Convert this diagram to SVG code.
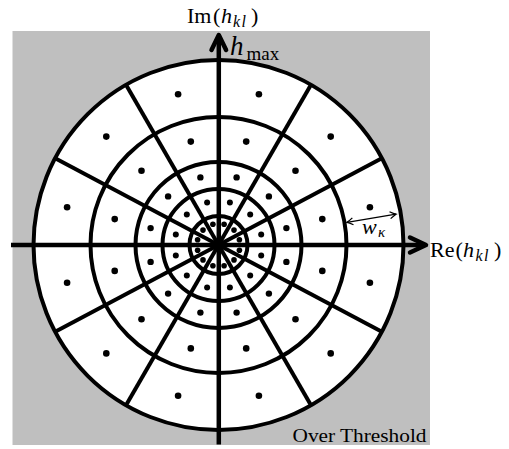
<svg xmlns="http://www.w3.org/2000/svg" width="509" height="449" viewBox="0 0 509 449">
<style>
.ring{fill:none;stroke:#000;stroke-width:4}
.spoke{stroke:#000;stroke-width:4}
.axis{stroke:#000;stroke-width:4.5;fill:none}
.head{stroke:#000;stroke-width:4.5;fill:none;stroke-linejoin:round;stroke-linecap:round}
.dot{fill:#000}
.lbl{font-family:"Liberation Serif","DejaVu Serif",serif;fill:#000}
.it{font-style:italic}
.sub{font-style:italic;font-size:16px;letter-spacing:1.5px}
</style>
<defs>
<marker id="ah" markerUnits="userSpaceOnUse" markerWidth="12" markerHeight="12" refX="0" refY="0" viewBox="-8 -6 10 12" orient="auto-start-reverse" overflow="visible">
<path d="M-6,-3.5 Q-2,-0.8 0,0 Q-2,0.8 -6,3.5" fill="none" stroke="#000" stroke-width="1.3"/>
</marker>
</defs>
<rect id="background" x="12.5" y="31" width="417.5" height="414" fill="#bfbfbf"/>
<g id="disk">
<circle cx="218.5" cy="245" r="185" fill="#fff"/>
</g>
<g id="connectors">
<line class="spoke" x1="381.85" y1="158.15" x2="55.15" y2="331.85"/>
<line class="spoke" x1="55.15" y1="158.15" x2="381.85" y2="331.85"/>
<line class="spoke" x1="311" y1="84.78" x2="126" y2="405.22"/>
<line class="spoke" x1="126" y1="84.78" x2="311" y2="405.22"/>
<circle class="ring" cx="218.5" cy="245" r="29"/>
<circle class="ring" cx="218.5" cy="245" r="56"/>
<circle class="ring" cx="218.5" cy="245" r="83"/>
<circle class="ring" cx="218.5" cy="245" r="128"/>
<circle class="ring" cx="218.5" cy="245" r="185"/>
<line x1="203" y1="60.5" x2="232" y2="60.5" stroke="#000" stroke-width="3"/>
<line class="axis" x1="11" y1="245" x2="424" y2="245"/>
<path class="head" d="M410,237.5 L426,245 L410,252.5"/>
<line class="axis" x1="218.8" y1="444.5" x2="218.8" y2="38"/>
<path class="head" d="M211.5,50 L218.8,35 L226.1,50"/>
<line x1="347" y1="222.3" x2="396" y2="214.2" stroke="#000" stroke-width="1.3" marker-start="url(#ah)" marker-end="url(#ah)"/>
</g>
<g id="dots" transform="translate(218.5,245)">
<circle class="dot" r="3.3" cx="151.4" cy="-37.7"/><circle class="dot" r="3.3" cx="-151.4" cy="-37.7"/><circle class="dot" r="3.3" cx="151.4" cy="37.7"/><circle class="dot" r="3.3" cx="-151.4" cy="37.7"/>
<circle class="dot" r="3.3" cx="112.2" cy="-108.4"/><circle class="dot" r="3.3" cx="-112.2" cy="-108.4"/><circle class="dot" r="3.3" cx="112.2" cy="108.4"/><circle class="dot" r="3.3" cx="-112.2" cy="108.4"/>
<circle class="dot" r="3.3" cx="40.4" cy="-150.7"/><circle class="dot" r="3.3" cx="-40.4" cy="-150.7"/><circle class="dot" r="3.3" cx="40.4" cy="150.7"/><circle class="dot" r="3.3" cx="-40.4" cy="150.7"/>
<circle class="dot" r="3.3" cx="103.8" cy="-25.9"/><circle class="dot" r="3.3" cx="-103.8" cy="-25.9"/><circle class="dot" r="3.3" cx="103.8" cy="25.9"/><circle class="dot" r="3.3" cx="-103.8" cy="25.9"/>
<circle class="dot" r="3.3" cx="77" cy="-74.3"/><circle class="dot" r="3.3" cx="-77" cy="-74.3"/><circle class="dot" r="3.3" cx="77" cy="74.3"/><circle class="dot" r="3.3" cx="-77" cy="74.3"/>
<circle class="dot" r="3.3" cx="27.7" cy="-103.4"/><circle class="dot" r="3.3" cx="-27.7" cy="-103.4"/><circle class="dot" r="3.3" cx="27.7" cy="103.4"/><circle class="dot" r="3.3" cx="-27.7" cy="103.4"/>
<circle class="dot" r="3.2" cx="67.9" cy="-16.9"/><circle class="dot" r="3.2" cx="-67.9" cy="-16.9"/><circle class="dot" r="3.2" cx="67.9" cy="16.9"/><circle class="dot" r="3.2" cx="-67.9" cy="16.9"/>
<circle class="dot" r="3.2" cx="50.4" cy="-48.6"/><circle class="dot" r="3.2" cx="-50.4" cy="-48.6"/><circle class="dot" r="3.2" cx="50.4" cy="48.6"/><circle class="dot" r="3.2" cx="-50.4" cy="48.6"/>
<circle class="dot" r="3.2" cx="18.1" cy="-67.6"/><circle class="dot" r="3.2" cx="-18.1" cy="-67.6"/><circle class="dot" r="3.2" cx="18.1" cy="67.6"/><circle class="dot" r="3.2" cx="-18.1" cy="67.6"/>
<circle class="dot" r="3" cx="42.7" cy="-10.6"/><circle class="dot" r="3" cx="-42.7" cy="-10.6"/><circle class="dot" r="3" cx="42.7" cy="10.6"/><circle class="dot" r="3" cx="-42.7" cy="10.6"/>
<circle class="dot" r="3" cx="31.7" cy="-30.6"/><circle class="dot" r="3" cx="-31.7" cy="-30.6"/><circle class="dot" r="3" cx="31.7" cy="30.6"/><circle class="dot" r="3" cx="-31.7" cy="30.6"/>
<circle class="dot" r="3" cx="11.4" cy="-42.5"/><circle class="dot" r="3" cx="-11.4" cy="-42.5"/><circle class="dot" r="3" cx="11.4" cy="42.5"/><circle class="dot" r="3" cx="-11.4" cy="42.5"/>
<circle class="dot" r="2.8" cx="20.9" cy="-5.2"/><circle class="dot" r="2.8" cx="-20.9" cy="-5.2"/><circle class="dot" r="2.8" cx="20.9" cy="5.2"/><circle class="dot" r="2.8" cx="-20.9" cy="5.2"/>
<circle class="dot" r="2.8" cx="15.5" cy="-14.9"/><circle class="dot" r="2.8" cx="-15.5" cy="-14.9"/><circle class="dot" r="2.8" cx="15.5" cy="14.9"/><circle class="dot" r="2.8" cx="-15.5" cy="14.9"/>
<circle class="dot" r="2.8" cx="5.6" cy="-20.8"/><circle class="dot" r="2.8" cx="-5.6" cy="-20.8"/><circle class="dot" r="2.8" cx="5.6" cy="20.8"/><circle class="dot" r="2.8" cx="-5.6" cy="20.8"/>
</g>
<g id="label-im">
<text class="lbl" x="187" y="23" font-size="22">Im<tspan x="213">(</tspan><tspan x="221" class="it">h</tspan><tspan x="233" class="sub" dy="4">kl</tspan><tspan x="251" dy="-4">)</tspan></text>
</g>
<g id="label-re">
<text class="lbl" x="430" y="257" font-size="22">Re<tspan x="455.5">(</tspan><tspan x="463" class="it">h</tspan><tspan x="475.5" class="sub" dy="4">kl</tspan><tspan x="494" dy="-4">)</tspan></text>
</g>
<g id="label-hmax">
<text class="lbl" x="230" y="55" font-size="27"><tspan class="it">h</tspan><tspan x="246.5" y="60" font-size="19">max</tspan></text>
</g>
<g id="label-w">
<text class="lbl" x="362" y="234" font-size="22"><tspan class="it">w</tspan><tspan x="378" y="237" class="it" font-size="15">κ</tspan></text>
</g>
<g id="label-over">
<text class="lbl" x="292.5" y="441.5" font-size="18" textLength="134" lengthAdjust="spacingAndGlyphs">Over Threshold</text>
</g>
</svg>
